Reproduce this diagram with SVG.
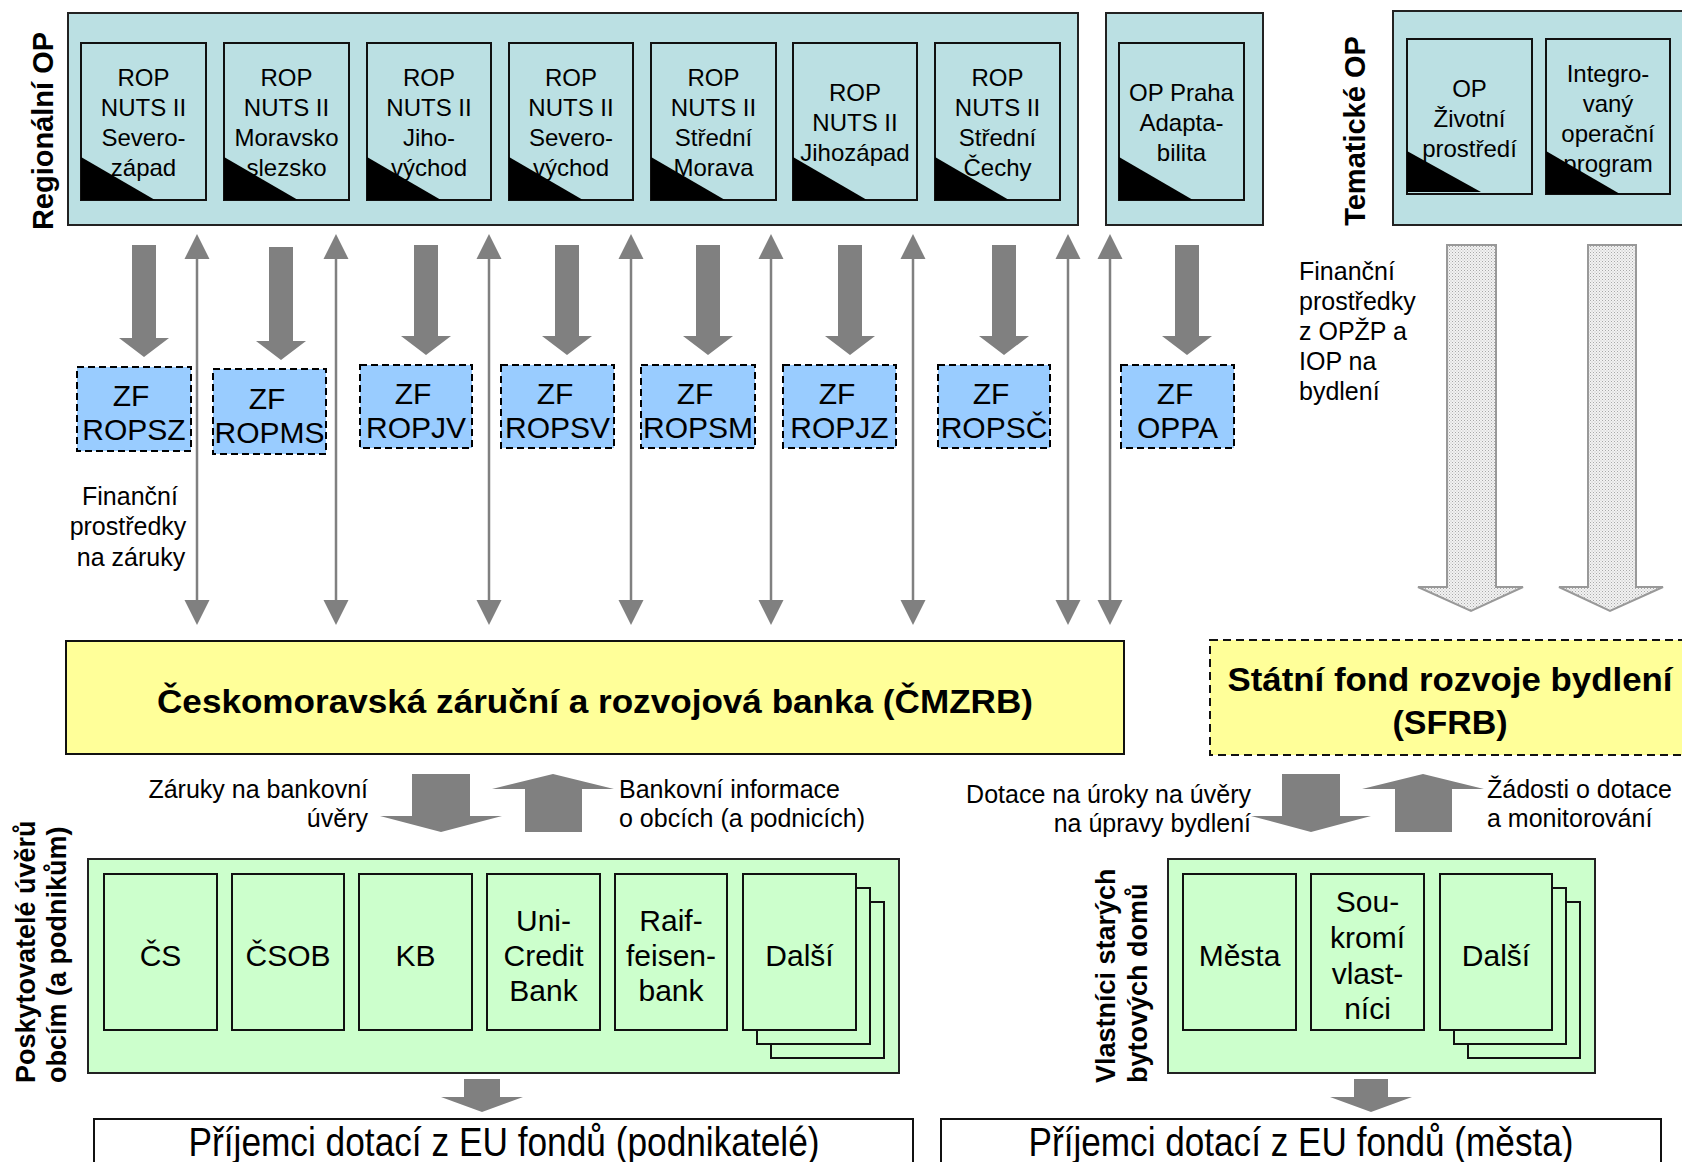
<svg xmlns="http://www.w3.org/2000/svg" width="1682" height="1162" viewBox="0 0 1682 1162">
<defs>
<pattern id="dots" width="3" height="3" patternUnits="userSpaceOnUse">
<rect width="3" height="3" fill="#f2f2f2"/>
<rect width="1" height="1" fill="#a8a8a8"/>
<rect x="1.5" y="1.5" width="1" height="1" fill="#bdbdbd"/>
</pattern>
<style>
text{font-family:"Liberation Sans",Arial,sans-serif;fill:#000}
.outer{fill:#BBE0E3;stroke:#222;stroke-width:2}
.inner{fill:#BBE0E3;stroke:#111;stroke-width:2}
.tri{fill:#000}
.rop{font-size:24px;text-anchor:middle}
.zf{fill:#99CCFF;stroke:#000;stroke-width:2;stroke-dasharray:7,4}
.zft{font-size:30px;text-anchor:middle}
.garrow{fill:#808080}
.thin{stroke:#808080;stroke-width:2.5;fill:none}
.thead{fill:#808080}
.hatch{fill:url(#dots);stroke:#999;stroke-width:2}
.yel{fill:#FFFF99;stroke:#111;stroke-width:2}
.yeld{fill:#FFFF99;stroke:#111;stroke-width:2;stroke-dasharray:8,5}
.grn{fill:#CCFFCC;stroke:#222;stroke-width:2}
.gin{fill:#CCFFCC;stroke:#111;stroke-width:2}
.gt{font-size:30px;text-anchor:middle}
.lbl{font-size:25px}
.side{font-size:27px;font-weight:bold}
.big{font-size:34px;font-weight:bold;text-anchor:middle}
.rec{fill:#fff;stroke:#111;stroke-width:2}
</style>
</defs>

<!-- Regional OP -->
<g id="regionalni-op">
<text class="side" transform="translate(53,131) rotate(-90)" text-anchor="middle" style="font-size:29px">Regionální OP</text>
<rect class="outer" x="68" y="13" width="1010" height="212"/>
</g>
<g id="rop-sz">
<rect class="inner" x="81" y="43" width="125" height="157"/>
<text class="rop" x="143.5" y="86">ROP</text><text class="rop" x="143.5" y="116">NUTS II</text><text class="rop" x="143.5" y="146">Severo-</text><text class="rop" x="143.5" y="176">západ</text>
<path class="tri" d="M81,157 L81,200 L155,200 z"/>
</g>
<g id="rop-ms">
<rect class="inner" x="224" y="43" width="125" height="157"/>
<text class="rop" x="286.5" y="86">ROP</text><text class="rop" x="286.5" y="116">NUTS II</text><text class="rop" x="286.5" y="146">Moravsko</text><text class="rop" x="286.5" y="176">slezsko</text>
<path class="tri" d="M224,157 L224,200 L298,200 z"/>
</g>
<g id="rop-jv">
<rect class="inner" x="367" y="43" width="124" height="157"/>
<text class="rop" x="429" y="86">ROP</text><text class="rop" x="429" y="116">NUTS II</text><text class="rop" x="429" y="146">Jiho-</text><text class="rop" x="429" y="176">východ</text>
<path class="tri" d="M367,157 L367,200 L441,200 z"/>
</g>
<g id="rop-sv">
<rect class="inner" x="509" y="43" width="124" height="157"/>
<text class="rop" x="571" y="86">ROP</text><text class="rop" x="571" y="116">NUTS II</text><text class="rop" x="571" y="146">Severo-</text><text class="rop" x="571" y="176">východ</text>
<path class="tri" d="M509,157 L509,200 L583,200 z"/>
</g>
<g id="rop-sm">
<rect class="inner" x="651" y="43" width="125" height="157"/>
<text class="rop" x="713.5" y="86">ROP</text><text class="rop" x="713.5" y="116">NUTS II</text><text class="rop" x="713.5" y="146">Střední</text><text class="rop" x="713.5" y="176">Morava</text>
<path class="tri" d="M651,157 L651,200 L725,200 z"/>
</g>
<g id="rop-jz">
<rect class="inner" x="793" y="43" width="124" height="157"/>
<text class="rop" x="855" y="101">ROP</text><text class="rop" x="855" y="131">NUTS II</text><text class="rop" x="855" y="161">Jihozápad</text>
<path class="tri" d="M793,157 L793,200 L867,200 z"/>
</g>
<g id="rop-sc">
<rect class="inner" x="935" y="43" width="125" height="157"/>
<text class="rop" x="997.5" y="86">ROP</text><text class="rop" x="997.5" y="116">NUTS II</text><text class="rop" x="997.5" y="146">Střední</text><text class="rop" x="997.5" y="176">Čechy</text>
<path class="tri" d="M935,157 L935,200 L1009,200 z"/>
</g>
<g id="op-praha">
<rect class="outer" x="1106" y="13" width="157" height="212"/>
<rect class="inner" x="1119" y="43" width="125" height="157"/>
<text class="rop" x="1181.5" y="101">OP Praha</text><text class="rop" x="1181.5" y="131">Adapta-</text><text class="rop" x="1181.5" y="161">bilita</text>
<path class="tri" d="M1119,157 L1119,200 L1193,200 z"/>
</g>

<!-- Thematic OP -->
<g id="tematicke-op">
<text class="side" transform="translate(1365,131) rotate(-90)" text-anchor="middle" style="font-size:29px">Tematické OP</text>
<rect class="outer" x="1393" y="11" width="300" height="214"/>
</g>
<g id="op-zp">
<rect class="inner" x="1407" y="39" width="125" height="155"/>
<text class="rop" x="1469.5" y="97">OP</text><text class="rop" x="1469.5" y="127">Životní</text><text class="rop" x="1469.5" y="157">prostředí</text>
<path class="tri" d="M1407,151 L1407,192 L1481,192 z"/>
</g>
<g id="iop">
<rect class="inner" x="1546" y="39" width="124" height="155"/>
<text class="rop" x="1608" y="82">Integro-</text><text class="rop" x="1608" y="112">vaný</text><text class="rop" x="1608" y="142">operační</text><text class="rop" x="1608" y="172">program</text>
<path class="tri" d="M1546,151 L1546,194 L1620,194 z"/>
</g>

<!-- ZF boxes -->
<g id="zf-ropsz"><rect class="zf" x="77" y="367" width="114" height="84"/><text class="zft" x="131" y="406">ZF</text><text class="zft" x="134" y="440">ROPSZ</text></g>
<g id="zf-ropms"><rect class="zf" x="213" y="369" width="113" height="85"/><text class="zft" x="267" y="409">ZF</text><text class="zft" x="269.5" y="443">ROPMS</text></g>
<g id="zf-ropjv"><rect class="zf" x="360" y="365" width="112" height="83"/><text class="zft" x="413" y="404">ZF</text><text class="zft" x="416" y="438">ROPJV</text></g>
<g id="zf-ropsv"><rect class="zf" x="501" y="365" width="113" height="83"/><text class="zft" x="555" y="404">ZF</text><text class="zft" x="557.5" y="438">ROPSV</text></g>
<g id="zf-ropsm"><rect class="zf" x="641" y="365" width="114" height="83"/><text class="zft" x="695" y="404">ZF</text><text class="zft" x="698" y="438">ROPSM</text></g>
<g id="zf-ropjz"><rect class="zf" x="783" y="365" width="113" height="83"/><text class="zft" x="837" y="404">ZF</text><text class="zft" x="839.5" y="438">ROPJZ</text></g>
<g id="zf-ropsc"><rect class="zf" x="938" y="365" width="112" height="83"/><text class="zft" x="991" y="404">ZF</text><text class="zft" x="994" y="438">ROPSČ</text></g>
<g id="zf-oppa"><rect class="zf" x="1121" y="365" width="113" height="83"/><text class="zft" x="1175" y="404">ZF</text><text class="zft" x="1177.5" y="438">OPPA</text></g>

<!-- CMZRB -->
<g id="cmzrb">
<rect class="yel" x="66" y="641" width="1058" height="113"/>
<text class="big" x="595" y="713" textLength="876" lengthAdjust="spacingAndGlyphs">Českomoravská záruční a rozvojová banka (ČMZRB)</text>
</g>
<!-- SFRB -->
<g id="sfrb">
<rect class="yeld" x="1210" y="640" width="490" height="115"/>
<text class="big" x="1450" y="691" textLength="445" lengthAdjust="spacingAndGlyphs">Státní fond rozvoje bydlení</text>
<text class="big" x="1450" y="734">(SFRB)</text>
</g>

<!-- Banks -->
<g id="poskytovatele">
<rect class="grn" x="88" y="859" width="811" height="214"/>
<text class="side" transform="translate(35,1083) rotate(-90)">Poskytovatelé úvěrů</text>
<text class="side" transform="translate(66,1083) rotate(-90)">obcím (a podnikům)</text>
</g>
<g id="cs"><rect class="gin" x="104" y="874" width="113" height="156"/><text class="gt" x="160.5" y="966">ČS</text></g>
<g id="csob"><rect class="gin" x="232" y="874" width="112" height="156"/><text class="gt" x="288" y="966">ČSOB</text></g>
<g id="kb"><rect class="gin" x="359" y="874" width="113" height="156"/><text class="gt" x="415.5" y="966">KB</text></g>
<g id="unicredit"><rect class="gin" x="487" y="874" width="113" height="156"/><text class="gt" x="543.5" y="931">Uni-</text><text class="gt" x="543.5" y="966">Credit</text><text class="gt" x="543.5" y="1001">Bank</text></g>
<g id="raiffeisen"><rect class="gin" x="615" y="874" width="112" height="156"/><text class="gt" x="671" y="931">Raif-</text><text class="gt" x="671" y="966">feisen-</text><text class="gt" x="671" y="1001">bank</text></g>
<g id="dalsi-banky">
<rect class="gin" x="771" y="902" width="113" height="156"/>
<rect class="gin" x="757" y="888" width="113" height="156"/>
<rect class="gin" x="743" y="874" width="113" height="156"/>
<text class="gt" x="799.5" y="966">Další</text>
</g>

<!-- Owners -->
<g id="vlastnici">
<rect class="grn" x="1168" y="859" width="427" height="214"/>
<text class="side" transform="translate(1115,1083) rotate(-90)">Vlastníci starých</text>
<text class="side" transform="translate(1147,1083) rotate(-90)">bytových domů</text>
</g>
<g id="mesta"><rect class="gin" x="1183" y="874" width="113" height="156"/><text class="gt" x="1239.5" y="966">Města</text></g>
<g id="soukromi"><rect class="gin" x="1311" y="874" width="113" height="156"/><text class="gt" x="1367.5" y="912">Sou-</text><text class="gt" x="1367.5" y="948">kromí</text><text class="gt" x="1367.5" y="984">vlast-</text><text class="gt" x="1367.5" y="1019">níci</text></g>
<g id="dalsi-vlastnici">
<rect class="gin" x="1468" y="902" width="112" height="156"/>
<rect class="gin" x="1454" y="888" width="112" height="156"/>
<rect class="gin" x="1440" y="874" width="112" height="156"/>
<text class="gt" x="1496" y="966">Další</text>
</g>

<!-- Recipients -->
<g id="prijemci-podnikatele">
<rect class="rec" x="94" y="1119" width="819" height="60"/>
<text x="504" y="1156" text-anchor="middle" font-size="40" textLength="631" lengthAdjust="spacingAndGlyphs">Příjemci dotací z EU fondů (podnikatelé)</text>
</g>
<g id="prijemci-mesta">
<rect class="rec" x="941" y="1119" width="720" height="60"/>
<text x="1301" y="1156" text-anchor="middle" font-size="40" textLength="545" lengthAdjust="spacingAndGlyphs">Příjemci dotací z EU fondů (města)</text>
</g>

<!-- Connectors -->
<g id="connectors">
<path class="garrow" d="M132,245 H156 V338 H169 L144,357 L119,338 H132 z"/>
<path class="garrow" d="M269,247 H293 V341 H306 L281,360 L256,341 H269 z"/>
<path class="garrow" d="M414,245 H438 V336 H451 L426,355 L401,336 H414 z"/>
<path class="garrow" d="M555,245 H579 V336 H592 L567,355 L542,336 H555 z"/>
<path class="garrow" d="M696,245 H720 V336 H733 L708,355 L683,336 H696 z"/>
<path class="garrow" d="M838,245 H862 V336 H875 L850,355 L825,336 H838 z"/>
<path class="garrow" d="M992,245 H1016 V336 H1029 L1004,355 L979,336 H992 z"/>
<path class="garrow" d="M1175,245 H1199 V336 H1212 L1187,355 L1162,336 H1175 z"/>

<g class="thin">
<line x1="197" y1="255" x2="197" y2="604"/>
<line x1="336" y1="255" x2="336" y2="604"/>
<line x1="489" y1="255" x2="489" y2="604"/>
<line x1="631" y1="255" x2="631" y2="604"/>
<line x1="771" y1="255" x2="771" y2="604"/>
<line x1="913" y1="255" x2="913" y2="604"/>
<line x1="1068" y1="255" x2="1068" y2="604"/>
<line x1="1110" y1="255" x2="1110" y2="604"/>
</g>
<g class="thead">
<path d="M197,234 L209.5,259 L184.5,259 z M197,625 L209.5,600 L184.5,600 z"/>
<path d="M336,234 L348.5,259 L323.5,259 z M336,625 L348.5,600 L323.5,600 z"/>
<path d="M489,234 L501.5,259 L476.5,259 z M489,625 L501.5,600 L476.5,600 z"/>
<path d="M631,234 L643.5,259 L618.5,259 z M631,625 L643.5,600 L618.5,600 z"/>
<path d="M771,234 L783.5,259 L758.5,259 z M771,625 L783.5,600 L758.5,600 z"/>
<path d="M913,234 L925.5,259 L900.5,259 z M913,625 L925.5,600 L900.5,600 z"/>
<path d="M1068,234 L1080.5,259 L1055.5,259 z M1068,625 L1080.5,600 L1055.5,600 z"/>
<path d="M1110,234 L1122.5,259 L1097.5,259 z M1110,625 L1122.5,600 L1097.5,600 z"/>
</g>

<path class="hatch" d="M1447,245 H1496 V587 H1523 L1471,611 L1418,587 H1447 z"/>
<path class="hatch" d="M1588,245 H1636 V587 H1663 L1610,611 L1559,587 H1588 z"/>

<path class="garrow" d="M412,774 H470 V816 H502 L441,832 L380,816 H412 z"/>
<path class="garrow" d="M525,832 H582 V789 H614 L553,774 L492,789 H525 z"/>
<path class="garrow" d="M1282,774 H1340 V816 H1371 L1311,832 L1251,816 H1282 z"/>
<path class="garrow" d="M1395,832 H1452 V789 H1484 L1423,774 L1362,789 H1395 z"/>
<path class="garrow" d="M464,1079 H500 V1097 H523 L482,1112 L441,1097 H464 z"/>
<path class="garrow" d="M1354,1079 H1388 V1097 H1412 L1371,1112 L1330,1097 H1354 z"/>
</g>

<!-- labels -->
<g id="labels">
<text class="lbl" x="130" y="505" text-anchor="middle">Finanční</text>
<text class="lbl" x="128" y="535" text-anchor="middle">prostředky</text>
<text class="lbl" x="131" y="566" text-anchor="middle">na záruky</text>

<text class="lbl" x="1299" y="280">Finanční</text>
<text class="lbl" x="1299" y="310">prostředky</text>
<text class="lbl" x="1299" y="340">z OPŽP a</text>
<text class="lbl" x="1299" y="370">IOP na</text>
<text class="lbl" x="1299" y="400">bydlení</text>

<text class="lbl" x="368" y="798" text-anchor="end">Záruky na bankovní</text>
<text class="lbl" x="368" y="827" text-anchor="end">úvěry</text>
<text class="lbl" x="619" y="798">Bankovní informace</text>
<text class="lbl" x="619" y="827">o obcích (a podnicích)</text>

<text class="lbl" x="1251" y="803" text-anchor="end">Dotace na úroky na úvěry</text>
<text class="lbl" x="1251" y="832" text-anchor="end">na úpravy bydlení</text>
<text class="lbl" x="1487" y="798">Žádosti o dotace</text>
<text class="lbl" x="1487" y="827">a monitorování</text>
</g>
</svg>
